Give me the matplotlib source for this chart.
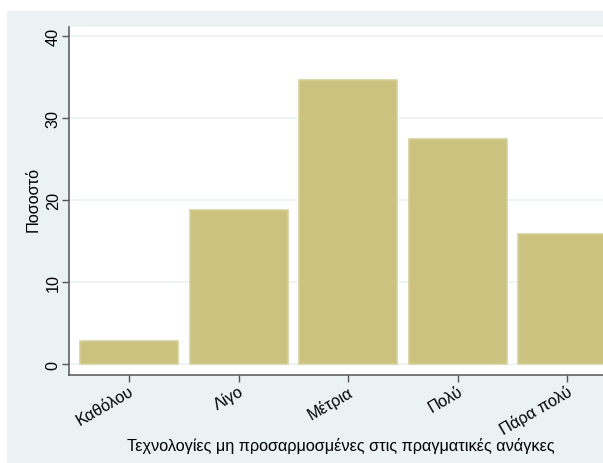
import matplotlib.pyplot as plt
from matplotlib.patches import Rectangle

plt.rcParams['font.family'] = ['Liberation Sans', 'DejaVu Sans']

categories = ['Καθόλου', 'Λίγο', 'Μέτρια', 'Πολύ', 'Πάρα πολύ']
percent = [2.9, 18.8, 34.7, 27.5, 15.9]
yticks = [0, 10, 20, 30, 40]

W, H = 603, 464
fs = 11.7
fig = plt.figure(figsize=(W / 100, H / 100), dpi=100, facecolor='white')

# outer panel, kept behind the axes
panel = Rectangle((7 / W, 0), 1, 1 - 12 / H, transform=fig.transFigure,
                  facecolor='#eaf2f3', edgecolor='none', zorder=-10)
fig.add_artist(panel)

# plot region runs past the right edge
left, right, top, bottom = 69, 640, 27.5, 375.5
ax = fig.add_axes([left / W, 1 - bottom / H, (right - left) / W, (bottom - top) / H])
ax.set_zorder(1)
ax.set_facecolor('white')

px = 109.5
xs = list(range(len(categories)))
ax.bar(xs, percent, width=98 / px, color='#cac27e', edgecolor='#d6d09c',
       linewidth=1.2, zorder=2)

ax.set_xlim(-60 / px, (right - 129) / px)
ax.set_ylim(-1.22, 41.2)

ax.set_yticks(yticks)
ax.set_yticklabels([str(v) for v in yticks], rotation=90, va='center', fontsize=fs)
ax.yaxis.grid(True, color='#eaf2f3', linewidth=1.2, zorder=0)
ax.set_axisbelow(True)

ax.set_xticks(xs)
ax.set_xticklabels(categories, rotation=30, ha='right', rotation_mode='anchor', fontsize=fs)

for s in ['top', 'right']:
    ax.spines[s].set_visible(False)
for s in ['left', 'bottom']:
    ax.spines[s].set_color('#555555')
    ax.spines[s].set_linewidth(1.1)
ax.tick_params(axis='both', length=5, width=1, color='#555555', labelcolor='black')
ax.tick_params(axis='x', pad=1)
ax.tick_params(axis='y', pad=1)

fig.text(33 / W, 1 - 200 / H, 'Ποσοστό', rotation=90, ha='center', va='center', fontsize=fs)
fig.text(341 / W, 1 - 446 / H, 'Τεχνολογίες μη προσαρμοσμένες στις πραγματικές ανάγκες',
         ha='center', va='center', fontsize=fs)

fig.savefig('out.png', dpi=100, facecolor='white')
